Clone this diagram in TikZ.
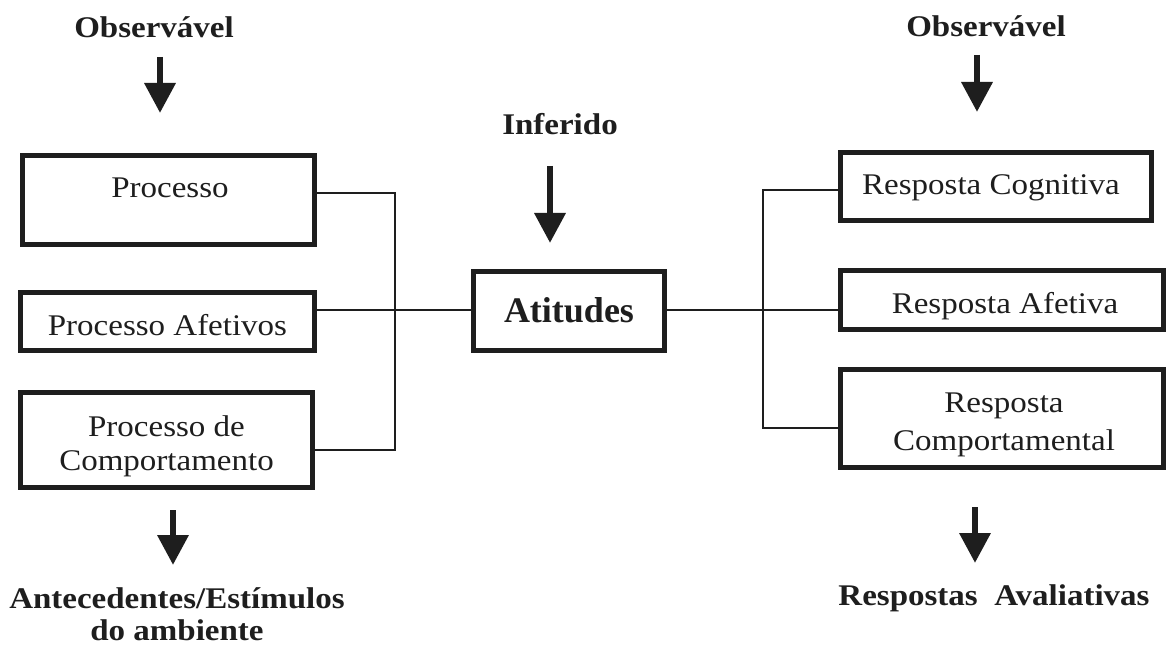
\documentclass[tikz,border=0pt]{standalone}
\usepackage{fontspec}
\setmainfont{Liberation Serif}[FakeStretch=1.1]
\newfontfamily\atfont{Liberation Serif}
\usetikzlibrary{arrows.meta}
\definecolor{ink}{HTML}{1E1E1E}
\begin{document}
\begin{tikzpicture}[x=1pt,y=-1pt,
  box/.style={draw=ink, line width=4.8pt, inner sep=0pt},
  txt/.style={anchor=base, inner sep=0pt, text=ink, font=\fontsize{30}{33}\selectfont},
  btxt/.style={txt, font=\fontsize{30}{33}\selectfont\bfseries},
  link/.style={draw=ink, line width=1.5pt},
  bigarrow/.style={draw=ink, line width=6.5pt, -{Triangle[width=30pt,length=30pt]}}]
\fill[white] (0,0) rectangle (1167,647);
\path[use as bounding box] (0,0) rectangle (1167,647);

% boxes
\node[box, minimum width=292.2pt, minimum height=89.2pt] (proc) at (168.5,200) {};
\node[box, minimum width=294.2pt, minimum height=58.2pt] (afet) at (167.5,321.5) {};
\node[box, minimum width=292.2pt, minimum height=95.2pt] (comp) at (166.5,440) {};
\node[box, minimum width=191.2pt, minimum height=79.2pt] (atit) at (569,311) {};
\node[box, minimum width=311.2pt, minimum height=68.2pt] (cogn) at (996,186.5) {};
\node[box, minimum width=323.2pt, minimum height=59.2pt] (rafet) at (1002,300) {};
\node[box, minimum width=323.2pt, minimum height=98.2pt] (rcomp) at (1002,418.5) {};

% texts
\node[btxt] (obsL) at (154,38) {Observável};
\node[btxt] (obsR) at (986,37) {Observável};
\node[btxt] (inf) at (560,135) {Inferido};
\node[txt] (procT) at (170,197) {Processo};
\node[txt] (afetT) at (167.5,335) {Processo Afetivos};
\node[txt] (compT1) at (166.5,436) {Processo de};
\node[txt] (compT2) at (166.5,470) {Comportamento};
\node[txt, font=\atfont\fontsize{36}{40}\selectfont\bfseries] (atitT) at (569,322) {Atitudes};
\node[txt] (cognT) at (991,195) {Resposta Cognitiva};
\node[txt] (rafetT) at (1005,313) {Resposta Afetiva};
\node[txt] (rcompT1) at (1004,412) {Resposta};
\node[txt] (rcompT2) at (1004,450) {Comportamental};
\node[btxt] (antT1) at (177,608) {Antecedentes/Estímulos};
\node[btxt] (antT2) at (177,640) {do ambiente};
\node[btxt] (avalT) at (994,605) {Respostas\ \ Avaliativas};

% connectors
\draw[link] (proc.east |- 0,193) -- (395,193) -- (395,450) -- (comp.east |- 0,450);
\draw[link] (afet.east |- 0,310) -- (atit.west |- 0,310);
\draw[link] (atit.east |- 0,310) -- (rafet.west |- 0,310);
\draw[link] (cogn.west |- 0,190) -- (763,190) -- (763,428) -- (rcomp.west |- 0,428);

% arrows
\coordinate (a1s) at (160,57);  \coordinate (a1e) at (160,113);
\coordinate (a2s) at (977,55);  \coordinate (a2e) at (977,112);
\coordinate (a3s) at (550,166); \coordinate (a3e) at (550,243);
\coordinate (a4s) at (173,510); \coordinate (a4e) at (173,565);
\coordinate (a5s) at (975,507); \coordinate (a5e) at (975,563);
\draw[bigarrow] (a1s) -- (a1e);
\draw[bigarrow] (a2s) -- (a2e);
\draw[bigarrow] (a3s) -- (a3e);
\draw[bigarrow] (a4s) -- (a4e);
\draw[bigarrow] (a5s) -- (a5e);
\end{tikzpicture}
\end{document}
